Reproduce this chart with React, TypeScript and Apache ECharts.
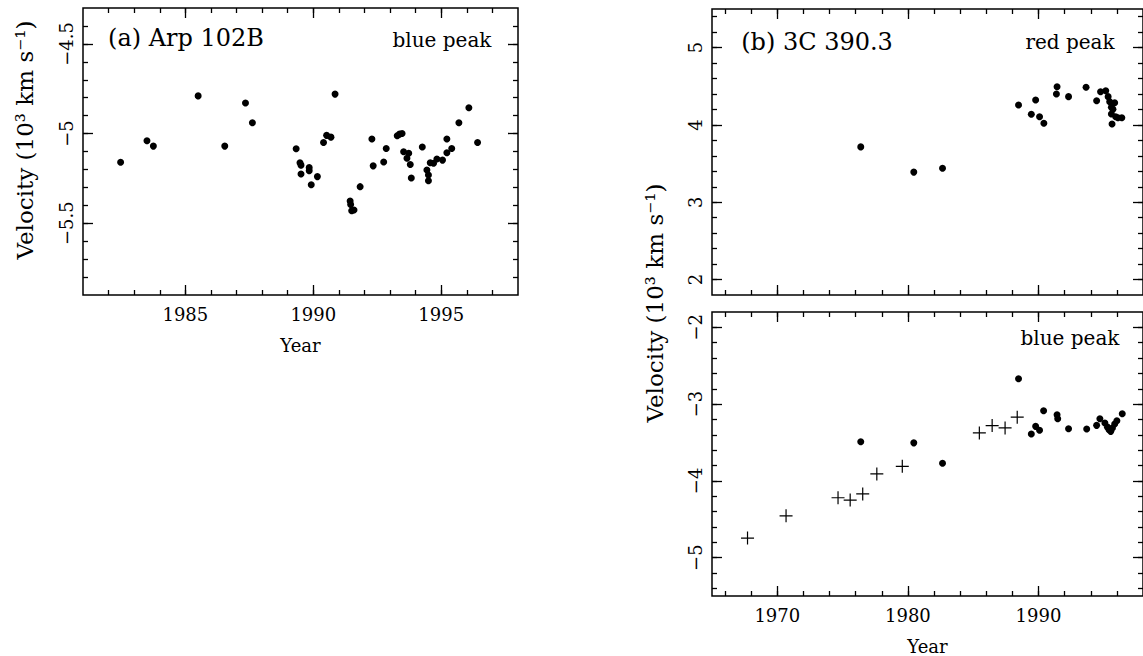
import React, { useEffect, useRef } from "react";
import * as echarts from "echarts";

const FONT = '"DejaVu Serif", serif';

// ---- Panel (a) Arp 102B, blue peak ----
const arpYear = [
  1982.47, 1983.5, 1983.75, 1985.5, 1986.54, 1987.35, 1987.62, 1989.33, 1989.48, 1989.52,
  1989.52, 1989.84, 1989.84, 1989.92, 1990.16, 1990.4, 1990.52, 1990.69, 1990.85, 1991.44,
  1991.46, 1991.5, 1991.59, 1991.83, 1992.29, 1992.34, 1992.75, 1992.85, 1993.28, 1993.37,
  1993.47, 1993.53, 1993.66, 1993.73, 1993.79, 1993.83, 1994.26, 1994.44, 1994.5, 1994.5,
  1994.57, 1994.7, 1994.83, 1995.05, 1995.22, 1995.22, 1995.41, 1995.69, 1996.08, 1996.42,
];
const arpVel = [
  -5.16, -5.04, -5.07, -4.79, -5.07, -4.83, -4.94, -5.085, -5.163, -5.176,
  -5.225, -5.19, -5.207, -5.285, -5.24, -5.05, -5.01, -5.02, -4.78, -5.376,
  -5.395, -5.43, -5.426, -5.296, -5.03, -5.18, -5.159, -5.083, -5.012, -5.003,
  -5.0, -5.101, -5.138, -5.11, -5.172, -5.248, -5.075, -5.203, -5.231, -5.263,
  -5.163, -5.166, -5.142, -5.148, -5.107, -5.03, -5.083, -4.94, -4.856, -5.05,
];

// ---- Panel (b) 3C 390.3, red peak ----
const redYear = [
  1976.39, 1980.45, 1982.65, 1988.47, 1989.78, 1989.45, 1990.08, 1990.41, 1991.42, 1991.37,
  1992.3, 1993.64, 1994.45, 1994.75, 1995.15, 1995.33, 1995.45, 1995.83, 1995.58, 1995.7,
  1995.58, 1995.91, 1995.63, 1996.08, 1996.38,
];
const redVel = [
  3.716, 3.39, 3.44, 4.258, 4.323, 4.138, 4.107, 4.022, 4.495, 4.4,
  4.366, 4.487, 4.314, 4.43, 4.443, 4.366, 4.3, 4.288, 4.228, 4.203,
  4.142, 4.107, 4.013, 4.094, 4.094,
];

// ---- Panel (b) 3C 390.3, blue peak (dots) ----
const blueDotYear = [
  1976.39, 1980.45, 1982.65, 1988.47, 1989.45, 1989.78, 1990.08, 1990.39, 1991.42, 1991.47,
  1992.3, 1993.69, 1994.45, 1994.7, 1995.08, 1995.28, 1995.4, 1995.53, 1995.66, 1995.83,
  1996.0, 1996.41,
];
const blueDotVel = [
  -3.49, -3.505, -3.77, -2.67, -3.39, -3.29, -3.34, -3.087, -3.14, -3.19,
  -3.32, -3.324, -3.277, -3.19, -3.246, -3.3, -3.333, -3.355, -3.311, -3.259,
  -3.216, -3.126,
];

// ---- Panel (b) 3C 390.3, blue peak (crosses, earlier data) ----
const blueCrossYear = [1967.72, 1970.67, 1974.65, 1975.58, 1976.54, 1977.62, 1979.57, 1985.47, 1986.45, 1987.44, 1988.37];
const blueCrossVel = [-4.745, -4.456, -4.22, -4.25, -4.17, -3.91, -3.81, -3.376, -3.28, -3.31, -3.17];

// ---- Tick values ----
const aYearTicks = [1985, 1990, 1995];
const aVelTicks = [-5.5, -5, -4.5];
const bYearTicks = [1970, 1980, 1990];
const bRedTicks = [2, 3, 4, 5];
const bBlueTicks = [-5, -4, -3, -2];

function steps(a: number, b: number, s: number): number[] {
  const out: number[] = [];
  const n = Math.round((b - a) / s);
  for (let i = 0; i <= n; i++) out.push(Math.round((a + i * s) * 1000) / 1000);
  return out;
}
const aYearMinor = steps(1982, 1997, 1);
const aVelMinor = steps(-5.8, -4.4, 0.1);
const bYearMinor = steps(1966, 1996, 2);
const bRedMinor = steps(2.0, 5.4, 0.2);
const bBlueMinor = steps(-5.4, -2.0, 0.2);

const zip = (xs: number[], ys: number[]) => xs.map((x, i) => [x, ys[i]]);
const fmt = (v: number) => String(v).replace("-", "\u2212");

function makeAxes(
  dim: "x" | "y",
  gridIndex: number,
  min: number,
  max: number,
  major: number[],
  minor: number[],
  showLabels: boolean,
  name?: string
) {
  const sides = dim === "x" ? ["bottom", "top"] : ["left", "right"];
  const out: any[] = [];
  sides.forEach((pos, si) => {
    [major, minor].forEach((vals, ti) => {
      const primary = si === 0 && ti === 0;
      const ax: any = {
        type: "value",
        gridIndex,
        min,
        max,
        position: pos,
        axisLine: { show: false, onZero: false },
        splitLine: { show: false },
        axisTick: {
          show: true,
          inside: true,
          length: ti === 0 ? 10 : 5,
          customValues: vals,
          lineStyle: { color: "#000", width: 1.3 },
        },
        axisLabel: {
          show: primary && showLabels,
          customValues: major,
          formatter: (v: number) => fmt(v),
          fontFamily: FONT,
          fontSize: 18,
          color: "#000",
          margin: dim === "x" ? 10 : 8,
          rotate: dim === "y" ? 90 : 0,
          showMinLabel: true,
          showMaxLabel: true,
        },
      };
      if (primary && name) {
        ax.name = name;
        ax.nameLocation = "middle";
        ax.nameGap = 41;
        ax.nameTextStyle = { fontFamily: FONT, fontSize: 18, color: "#000" };
      }
      out.push(ax);
    });
  });
  return out;
}

const dotSeries = (xi: number, yi: number, data: number[][]) => ({
  type: "scatter",
  xAxisIndex: xi,
  yAxisIndex: yi,
  data,
  symbol: "circle",
  symbolSize: 7,
  itemStyle: { color: "#000", opacity: 1 },
  silent: true,
});

export default function App() {
  const ref = useRef<HTMLDivElement>(null);
  useEffect(() => {
    if (!ref.current) return;
    const chart = echarts.init(ref.current, undefined, { renderer: "svg" });
    const gridStyle = { show: true, borderColor: "#000", borderWidth: 1.5, backgroundColor: "transparent", containLabel: false };
    const textEl = (text: string, x: number, y: number, size: number, rotation = 0) => ({
      type: "text",
      x,
      y,
      rotation,
      silent: true,
      style: {
        text,
        fontFamily: FONT,
        fontSize: size,
        fill: "#000",
        align: "center",
        verticalAlign: "middle",
        textAlign: "center",
        textVerticalAlign: "middle",
      },
    });
    chart.setOption({
      animation: false,
      backgroundColor: "#fff",
      grid: [
        { ...gridStyle, left: 83, top: 8, width: 435, height: 287 },
        { ...gridStyle, left: 712, top: 9, width: 436, height: 286 },
        { ...gridStyle, left: 712, top: 312, width: 436, height: 286 },
      ],
      xAxis: [
        ...makeAxes("x", 0, 1981, 1998, aYearTicks, aYearMinor, true, "Year"),
        ...makeAxes("x", 1, 1965, 1998, bYearTicks, bYearMinor, false),
        ...makeAxes("x", 2, 1965, 1998, bYearTicks, bYearMinor, true, "Year"),
      ],
      yAxis: [
        ...makeAxes("y", 0, -5.9, -4.3, aVelTicks, aVelMinor, true),
        ...makeAxes("y", 1, 1.8, 5.5, bRedTicks, bRedMinor, true),
        ...makeAxes("y", 2, -5.5, -1.8, bBlueTicks, bBlueMinor, true),
      ],
      series: [
        dotSeries(0, 0, zip(arpYear, arpVel)),
        dotSeries(4, 4, zip(redYear, redVel)),
        dotSeries(8, 8, zip(blueDotYear, blueDotVel)),
        {
          type: "scatter",
          xAxisIndex: 8,
          yAxisIndex: 8,
          data: zip(blueCrossYear, blueCrossVel),
          symbol: "path://M5,0L5,10M0,5L10,5",
          symbolSize: 13,
          itemStyle: { color: "none", borderColor: "#000", borderWidth: 1.2, opacity: 1 },
          silent: true,
        },
      ],
      graphic: [
        textEl("(a) Arp 102B", 186, 38, 24),
        textEl("blue peak", 442, 40, 20),
        textEl("(b) 3C 390.3", 817, 42, 24),
        textEl("red peak", 1070, 42, 20),
        textEl("blue peak", 1070, 338, 20),
        textEl("Velocity (10\u00b3 km s\u207b\u00b9)", 25, 140, 23, Math.PI / 2),
        textEl("Velocity (10\u00b3 km s\u207b\u00b9)", 655, 303, 23, Math.PI / 2),
      ],
    });
    return () => chart.dispose();
  }, []);
  return (
    <div style={{ position: "fixed", left: 0, top: 0, width: 1143, height: 656, overflow: "hidden", background: "#fff" }}>
      <div ref={ref} style={{ width: 1143, height: 656 }} />
    </div>
  );
}
